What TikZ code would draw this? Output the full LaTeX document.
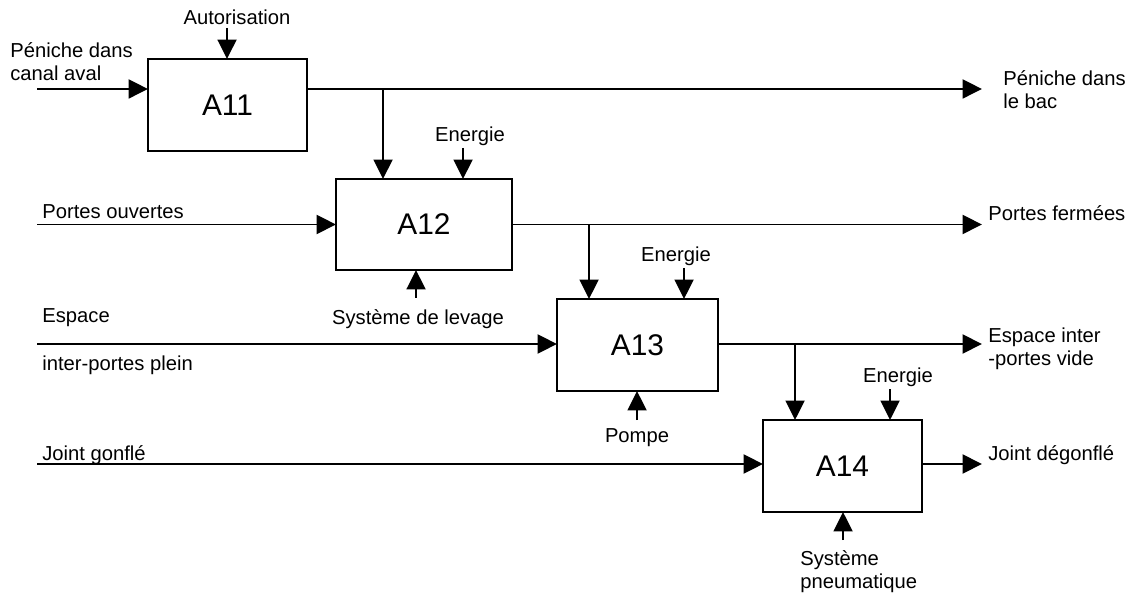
\documentclass[tikz,border=0pt]{standalone}
\usepackage{fontspec}
\setmainfont{Liberation Sans}
\usetikzlibrary{arrows.meta}
\tikzset{
  bloc/.style={draw, line width=1.1pt, minimum width=3.2cm, minimum height=1.84cm,
    inner sep=0pt, outer sep=0pt, font=\fontsize{17}{19}\selectfont},
  flux/.style={line width=1.1pt, -{Triangle[length=3.9mm,width=3.8mm]}},
  lbl/.style={inner sep=0pt, font=\fontsize{11.5}{13}\selectfont, align=left},
}
\begin{document}
\begin{tikzpicture}[x=0.02cm, y=-0.02cm]
  \useasboundingbox (0,0) rectangle (1131,597);
  % Blocs
  \node[bloc, minimum width=3.18cm] (a11) at (227.5,105) {A11};
  \node[bloc, minimum width=3.52cm, minimum height=1.82cm] (a12) at (424,224.5) {A12};
  \node[bloc, minimum width=3.22cm] (a13) at (637.5,345) {A13};
  \node[bloc, minimum width=3.18cm] (a14) at (842.5,466) {A14};
  % Entrees
  \coordinate (e1) at (37,89);
  \coordinate (e2) at (37,224.5);
  \coordinate (e3) at (37,344);
  \coordinate (e4) at (37,464);
  \draw[flux] (e1) -- (e1 -| a11.west);
  \draw[flux] (e2) -- (e2 -| a12.west);
  \draw[flux] (e3) -- (e3 -| a13.west);
  \draw[flux] (e4) -- (e4 -| a14.west);
  \node[lbl, anchor=west] (pen1) at (10,61.5) {Péniche dans\\canal aval};
  \node[lbl, anchor=west] (pouv) at (42,212) {Portes ouvertes};
  \node[lbl, anchor=west] (esp1) at (42,318) {Espace};
  \node[lbl, anchor=west] (esp2) at (42,365) {inter-portes plein};
  \node[lbl, anchor=west] (jgon) at (42,455) {Joint gonflé};
  % Sorties
  \coordinate (s1) at (982,89);
  \coordinate (s2) at (982,224.5);
  \coordinate (s3) at (982,344);
  \coordinate (s4) at (982,464);
  \draw[flux] (a11.east |- s1) -- (s1);
  \draw[flux] (a12.east |- s2) -- (s2);
  \draw[flux] (a13.east |- s3) -- (s3);
  \draw[flux] (a14.east |- s4) -- (s4);
  \node[lbl, anchor=west] (pen2) at (1003,90) {Péniche dans\\le bac};
  \node[lbl, anchor=west] (pfer) at (988,213) {Portes fermées};
  \node[lbl, anchor=west] (espv) at (988,349) {Espace inter\\-portes vide};
  \node[lbl, anchor=west] (jdeg) at (988,455) {Joint dégonflé};
  % Liaisons entre blocs
  \coordinate (b2) at (383,89);
  \coordinate (b3) at (589,224.5);
  \coordinate (b4) at (795,344);
  \draw[flux] (b2) -- (b2 |- a12.north);
  \draw[flux] (b3) -- (b3 |- a13.north);
  \draw[flux] (b4) -- (b4 |- a14.north);
  % Controles
  \node[lbl] (aut) at (237,17) {Autorisation};
  \coordinate (k1) at (227,28);
  \draw[flux] (k1) -- (k1 |- a11.north);
  \foreach \n/\x/\t/\y in {2/463/470/148, 3/684/676/268, 4/890/898/389} {
    \node[lbl] (en\n) at (\t,\y-12) {Energie};
    \coordinate (k\n) at (\x,\y);
    \draw[flux] (k\n) -- (k\n |- a1\n.north);
  }
  % Mecanismes
  \coordinate (m2) at (416,298);
  \coordinate (m3) at (637,420);
  \coordinate (m4) at (843,540);
  \draw[flux] (m2) -- (m2 |- a12.south);
  \draw[flux] (m3) -- (m3 |- a13.south);
  \draw[flux] (m4) -- (m4 |- a14.south);
  \node[lbl] (lev) at (418,319) {Système de levage};
  \node[lbl] (pom) at (637,438) {Pompe};
  \node[lbl, anchor=west] (pneu) at (800,572) {Système\\pneumatique};
\end{tikzpicture}
\end{document}
